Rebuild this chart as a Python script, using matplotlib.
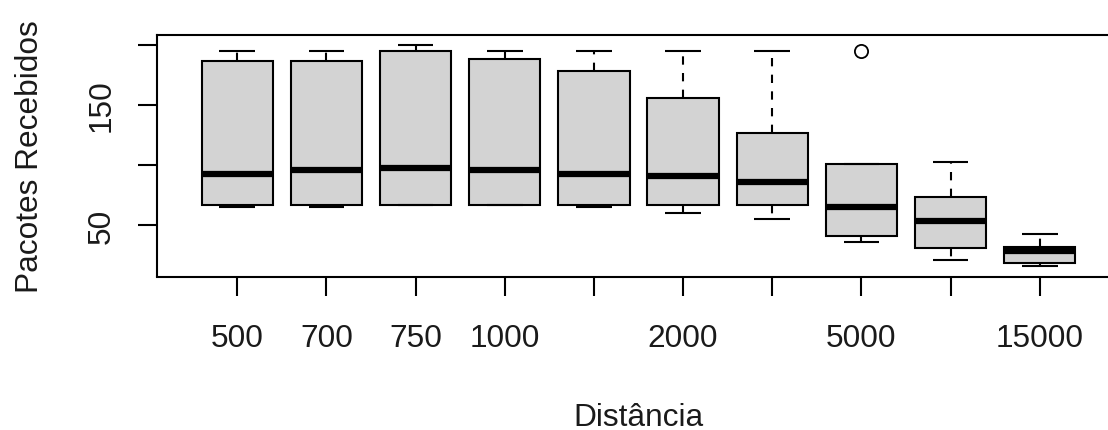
import matplotlib
matplotlib.use("Agg")
import matplotlib.pyplot as plt

# ---- data ----
tick_labels = ["500", "700", "750", "1000", "", "2000", "", "5000", "", "15000"]
whis_hi = [194.8, 194.8, 199.8, 194.8, 194.8, 194.8, 194.8, 101.1, 102.8, 42.9]
q3      = [186.5, 186.5, 194.8, 187.9, 178.2, 155.5, 126.6, 101.1, 73.6, 31.8]
med     = [92.2, 95.8, 97.8, 95.8, 92.2, 90.8, 85.5, 65.3, 53.3, 28.75]
q1      = [66.6, 66.6, 66.6, 66.6, 66.6, 66.6, 66.6, 41.2, 30.8, 18.75]
whis_lo = [65.3, 65.3, 66.6, 66.6, 65.3, 60.3, 54.7, 36.2, 20.9, 15.7]
outliers = [[], [], [], [], [], [], [], [194.8], [], []]
y_ticks = [50, 100, 150, 200]
y_tick_labels = ["50", "", "150", ""]

plt.rcParams['font.family'] = ['Liberation Sans', 'DejaVu Sans']
FS = 22.8
TXT = '#1a1a1a'

W, H = 1108, 431
fig = plt.figure(figsize=(W / 100, H / 100), dpi=100)
L, R, T, B = 157, 1120, 36, 277.5
ax = fig.add_axes([L / W, 1 - B / H, (R - L) / W, (B - T) / H])

stats = [dict(whislo=whis_lo[i], q1=q1[i], med=med[i], q3=q3[i],
              whishi=whis_hi[i], fliers=outliers[i])
         for i in range(len(med))]
positions = list(range(1, len(med) + 1))

ax.bxp(stats, positions=positions, widths=0.8, capwidths=0.4,
       patch_artist=True, showfliers=True,
       boxprops=dict(facecolor='#d3d3d3', edgecolor='black', linewidth=1.5),
       medianprops=dict(color='black', linewidth=4.5, solid_capstyle='butt'),
       whiskerprops=dict(color='black', linewidth=1.5, linestyle=(0, (4, 4))),
       capprops=dict(color='black', linewidth=1.5, solid_capstyle='butt'),
       flierprops=dict(marker='o', markerfacecolor='none',
                       markeredgecolor='black', markersize=9.5,
                       markeredgewidth=1.3))

ax.set_xlim(0.1, 10.9)
ax.set_ylim(7.1, 208.3)
ax.set_xticks(positions)
ax.set_xticklabels(tick_labels)
ax.set_yticks(y_ticks)
ax.set_yticklabels(y_tick_labels)

for s in ax.spines.values():
    s.set_linewidth(1.5)
    s.set_color('black')

ax.tick_params(axis='both', direction='out', length=13.7, width=1.5,
               color='black', labelsize=FS, labelcolor=TXT)
ax.tick_params(axis='x', pad=20)
ax.tick_params(axis='y', pad=15.3, labelrotation=90)
for lab in ax.get_yticklabels():
    lab.set_va('center')
    lab.set_ha('right')

ax.set_xlabel("Distância", fontsize=FS, color=TXT)
ax.xaxis.set_label_coords(0.5, (B - 403) / (B - T))
ax.set_ylabel("Pacotes Recebidos", fontsize=FS, color=TXT)
ax.yaxis.set_label_coords((45 - L) / (R - L), 0.5)

fig.savefig("out.png", dpi=100)
